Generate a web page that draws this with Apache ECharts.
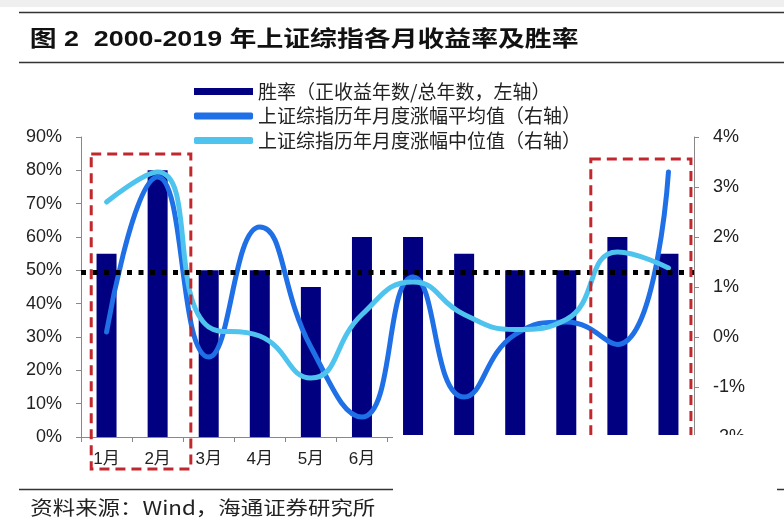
<!DOCTYPE html>
<html>
<head>
<meta charset="utf-8">
<script src="https://cdn.jsdelivr.net/npm/echarts@6/dist/echarts.min.js"></script>
<style>
  html, body { margin: 0; padding: 0; background: #fff; }
  #chart { width: 784px; height: 529px; }
</style>
</head>
<body>
<div id="chart"></div>
<script>
  // 月份
  var months = ['1月', '2月', '3月', '4月', '5月', '6月', '7月', '8月', '9月', '10月', '11月', '12月'];
  // 胜率（%，左轴）
  var winRate = [55, 80, 50, 50, 45, 60, 60, 55, 50, 50, 60, 55];
  // 月度涨幅平均值（%，右轴）
  var meanRet = [0.1, 3.2, -0.4, 2.2, -0.2, -1.6, 1.2, -1.2, 0.05, 0.3, -0.15, 3.3];
  // 月度涨幅中位值（%，右轴）
  var medianRet = [2.7, 3.3, 0.2, 0.02, -0.82, 0.45, 1.1, 0.45, 0.15, 0.35, 1.7, 1.38];
  var leftTicks = [0, 90, 10];
  var rightTicks = [-2, 4, 1];
  var halfLine = 49.3;

  var legendNames = ['胜率（正收益年数/总年数，左轴）', '上证综指历年月度涨幅平均值（右轴）', '上证综指历年月度涨幅中位值（右轴）'];

  var navy = '#000080', blue = '#1F6FE6', sky = '#4EC3EE';
  var latin = '"Liberation Sans", Arial, "Noto Sans CJK SC", sans-serif';
  var cjk = '"Noto Sans CJK SC", sans-serif';

  var chart = echarts.init(document.getElementById('chart'));

  var option = {
    animation: false,
    color: [navy, blue, sky],
    legend: {
      orient: 'vertical',
      left: 189,
      top: 77,
      itemWidth: 59,
      itemHeight: 7,
      itemGap: 5.5,
      textStyle: {
        fontFamily: cjk,
        fontSize: 19,
        lineHeight: 19,
        color: '#222'
      },
      data: [
        { name: legendNames[0], icon: 'rect', itemStyle: { color: navy } },
        { name: legendNames[1], icon: 'roundRect', itemStyle: { color: blue } },
        { name: legendNames[2], icon: 'roundRect', itemStyle: { color: sky } }
      ]
    },
    grid: {
      left: 81,
      right: 90,
      top: 137,
      bottom: 92
    },
    xAxis: {
      type: 'category',
      data: months,
      axisLine: { lineStyle: { color: '#888', width: 1 } },
      axisTick: { show: true, length: 5, lineStyle: { color: '#888' } },
      axisLabel: {
        color: '#222',
        fontFamily: latin,
        fontSize: 17,
        margin: 14
      }
    },
    yAxis: [{
      type: 'value',
      min: leftTicks[0],
      max: leftTicks[1],
      interval: leftTicks[2],
      splitLine: { show: false },
      axisLine: { show: true, lineStyle: { color: '#888' } },
      axisTick: { show: true, length: 5, lineStyle: { color: '#888' } },
      axisLabel: {
        formatter: '{value}%',
        color: '#222',
        fontFamily: latin,
        fontSize: 18,
        margin: 19
      }
    }, {
      type: 'value',
      min: rightTicks[0],
      max: rightTicks[1],
      interval: rightTicks[2],
      splitLine: { show: false },
      axisLine: { show: true, lineStyle: { color: '#888' } },
      axisTick: { show: true, length: 5, lineStyle: { color: '#888' } },
      axisLabel: {
        formatter: '{value}%',
        color: '#222',
        fontFamily: latin,
        fontSize: 18,
        margin: 19
      }
    }],
    series: [{
      name: legendNames[0],
      type: 'bar',
      yAxisIndex: 0,
      barWidth: 20,
      itemStyle: { color: navy },
      data: winRate,
      markLine: {
        silent: true,
        symbol: 'none',
        label: { show: false },
        lineStyle: { color: '#000', width: 5, type: [5, 6.5] },
        data: [{ yAxis: halfLine }]
      }
    }, {
      name: legendNames[1],
      type: 'line',
      yAxisIndex: 1,
      smooth: 0.5,
      showSymbol: false,
      itemStyle: { color: blue },
      lineStyle: { width: 5, color: blue, cap: 'round' },
      data: meanRet
    }, {
      name: legendNames[2],
      type: 'line',
      yAxisIndex: 1,
      smooth: 0.5,
      showSymbol: false,
      itemStyle: { color: sky },
      lineStyle: { width: 5, color: sky, cap: 'round' },
      data: medianRet
    }]
  };

  chart.setOption(option);

  // 红框标注位置取自坐标轴
  var c = function (i) { return chart.convertToPixel({ xAxisIndex: 0 }, i); };
  var y = function (v) { return chart.convertToPixel({ yAxisIndex: 1 }, v); };
  var w = c(1) - c(0);
  var boxBottom = y(-2) + 32;
  var redStyle = { fill: 'none', stroke: '#C1272D', lineWidth: 3, lineDash: [10, 6] };

  chart.setOption({
    graphic: [
      { type: 'rect', left: 0, top: 0, shape: { width: 784, height: 7 }, style: { fill: '#efefef' }, silent: true },
      { type: 'line', shape: { x1: 19, y1: 12.5, x2: 784, y2: 12.5 }, style: { stroke: '#333', lineWidth: 1.5 } },
      {
        type: 'text', x: 38, y: 40, scaleX: 1.22, originX: 38, originY: 40,
        style: {
          text: '图 2  2000-2019 年上证综指各月收益率及胜率',
          font: 'bold 22px ' + latin,
          fill: '#111',
          textVerticalAlign: 'middle'
        }
      },
      { type: 'line', shape: { x1: 19, y1: 62.5, x2: 784, y2: 62.5 }, style: { stroke: '#333', lineWidth: 1.5 } },
      {
        type: 'rect', z: 50,
        shape: { x: c(0) - 0.3 * w, y: y(3.66), width: c(1) + 0.65 * w - (c(0) - 0.3 * w), height: boxBottom - y(3.66) },
        style: redStyle
      },
      {
        type: 'rect', z: 50,
        shape: { x: c(10) - 0.52 * w, y: y(3.56), width: c(11) + 0.44 * w - (c(10) - 0.52 * w), height: boxBottom - y(3.56) },
        style: redStyle
      },
      { type: 'rect', z: 100, shape: { x: 393, y: 435, width: 391, height: 94 }, style: { fill: '#fff' } },
      { type: 'line', z: 101, shape: { x1: 19, y1: 489.5, x2: 393, y2: 489.5 }, style: { stroke: '#333', lineWidth: 1.5 } },
      { type: 'line', z: 101, shape: { x1: 777, y1: 489.5, x2: 784, y2: 489.5 }, style: { stroke: '#333', lineWidth: 1.5 } },
      {
        type: 'text', z: 101, x: 37, y: 508, scaleX: 1.18, originX: 37, originY: 508,
        style: {
          text: '资料来源：Wind，海通证券研究所',
          font: '19px ' + cjk,
          fill: '#222',
          textVerticalAlign: 'middle'
        }
      }
    ]
  });

  window.addEventListener('resize', function () {
    chart.resize();
  });
</script>
</body>
</html>
